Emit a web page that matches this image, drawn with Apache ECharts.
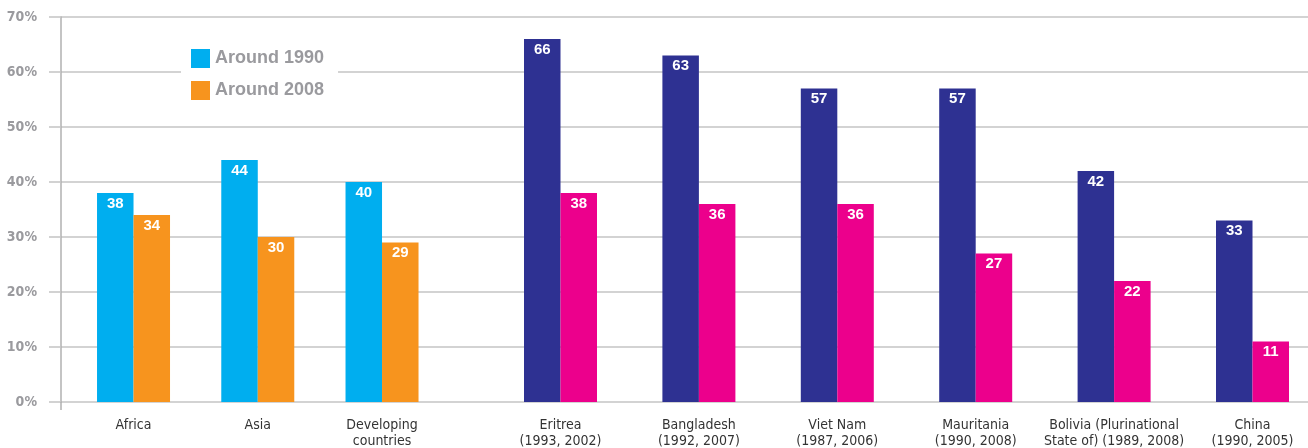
<!DOCTYPE html>
<html>
<head>
<meta charset="utf-8">
<script src="https://cdn.jsdelivr.net/npm/echarts@6/dist/echarts.min.js"></script>
<style>
html,body{margin:0;padding:0;background:#fff;}
#chart{width:1308px;height:448px;}
</style>
</head>
<body>
<div id="chart"></div>
<script>
// ---- data ----
var regionCategories = ['Africa', 'Asia', 'Developing\ncountries'];
var regionAround1990 = [38, 44, 40];
var regionAround2008 = [34, 30, 29];

var countryCategories = [
  'Eritrea\n(1993, 2002)',
  'Bangladesh\n(1992, 2007)',
  'Viet Nam\n(1987, 2006)',
  'Mauritania\n(1990, 2008)',
  'Bolivia (Plurinational\nState of) (1989, 2008)',
  'China\n(1990, 2005)'
];
var countryFirst = [66, 63, 57, 57, 42, 33];
var countryLast = [38, 36, 36, 27, 22, 11];

var yTicks = [0, 10, 20, 30, 40, 50, 60, 70];
var legendNames = ['Around 1990', 'Around 2008'];

// ---- chart ----
var chart = echarts.init(document.getElementById('chart'), null, {renderer: 'canvas'});
var TOP = 17, BOTTOM = 46;
var gridColor = '#c4c4c4';
var condensed = "'Liberation Sans Narrow', 'DejaVu Sans Condensed', sans-serif";

var barLabel = {
  show: true,
  position: 'insideTop',
  distance: 3,
  color: '#fff',
  fontFamily: "'Liberation Sans', Arial, sans-serif",
  fontWeight: 'bold',
  fontSize: 15
};
var xLabel = {
  color: '#333',
  fontFamily: condensed,
  fontSize: 14,
  lineHeight: 16,
  margin: 15,
  interval: 0
};

var option = {
  animation: false,
  backgroundColor: '#fff',
  legend: {
    data: legendNames,
    orient: 'vertical',
    left: 181,
    top: 45,
    padding: [4, 14, 4, 10],
    itemWidth: 19,
    itemHeight: 19,
    itemGap: 13,
    backgroundColor: '#fff',
    icon: 'rect',
    textStyle: {
      color: '#9a9a9e',
      fontFamily: "'Liberation Sans', Arial, sans-serif",
      fontWeight: 'bold',
      fontSize: 18
    },
    z: 10
  },
  grid: [
    {left: 61, right: 0, top: TOP, bottom: BOTTOM, outerBoundsMode: 'none'},
    {left: 71.4, width: 372.75, top: TOP, bottom: BOTTOM, outerBoundsMode: 'none'},
    {left: 491.3, width: 830.4, top: TOP, bottom: BOTTOM, outerBoundsMode: 'none'}
  ],
  xAxis: [
    {gridIndex: 0, type: 'category', data: [''], show: false},
    {gridIndex: 1, type: 'category', data: regionCategories,
      axisLine: {show: false}, axisTick: {show: false}, axisLabel: xLabel},
    {gridIndex: 2, type: 'category', data: countryCategories,
      axisLine: {show: false}, axisTick: {show: false}, axisLabel: xLabel}
  ],
  yAxis: [
    {gridIndex: 0, type: 'value', min: yTicks[0], max: yTicks[yTicks.length - 1], interval: 10,
      axisLine: {show: true, lineStyle: {color: '#b0b0b0', width: 1.5}},
      axisTick: {show: true, length: 12, lineStyle: {color: gridColor, width: 1.5}},
      splitLine: {show: true, lineStyle: {color: gridColor, width: 1.5}},
      axisLabel: {
        formatter: '{value}%',
        color: '#9a9a9e',
        fontFamily: condensed,
        fontWeight: 'bold',
        fontSize: 14,
        margin: 24
      }
    },
    {gridIndex: 1, type: 'value', min: 0, max: 70, show: false, splitLine: {show: false}},
    {gridIndex: 2, type: 'value', min: 0, max: 70, show: false, splitLine: {show: false}}
  ],
  graphic: [
    {type: 'line', shape: {x1: 61, y1: 402, x2: 61, y2: 410},
      style: {stroke: '#b0b0b0', lineWidth: 1.5}, z: 5}
  ],
  series: [
    {name: legendNames[0], type: 'bar', xAxisIndex: 1, yAxisIndex: 1, data: regionAround1990,
      barWidth: 36.5, barGap: '0%', itemStyle: {color: '#00aeef'}, label: barLabel},
    {name: legendNames[1], type: 'bar', xAxisIndex: 1, yAxisIndex: 1, data: regionAround2008,
      barWidth: 36.5, barGap: '0%', itemStyle: {color: '#f7941e'}, label: barLabel},
    {name: 'First survey', type: 'bar', xAxisIndex: 2, yAxisIndex: 2, data: countryFirst,
      barWidth: 36.5, barGap: '0%', itemStyle: {color: '#2e3192'}, label: barLabel},
    {name: 'Latest survey', type: 'bar', xAxisIndex: 2, yAxisIndex: 2, data: countryLast,
      barWidth: 36.5, barGap: '0%', itemStyle: {color: '#ec008c'}, label: barLabel}
  ]
};
chart.setOption(option);
</script>
</body>
</html>
